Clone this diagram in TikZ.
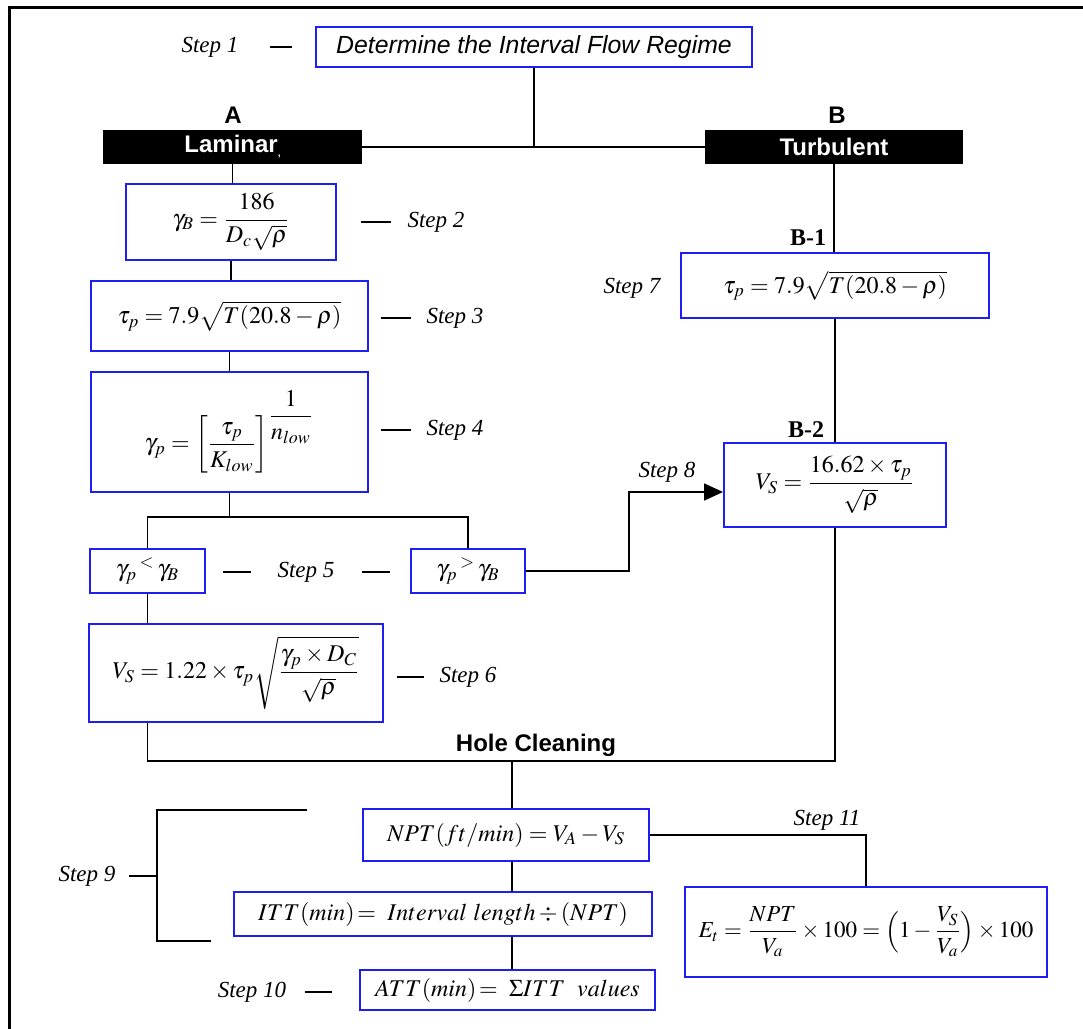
\documentclass[tikz,border=0pt]{standalone}
\usepackage{amsmath}
\usepackage{mathptmx}
\usepackage[no-math]{fontspec}
\setmainfont{Liberation Serif}
\setsansfont{Liberation Sans}
\usetikzlibrary{arrows.meta}
\definecolor{eqblue}{RGB}{30,30,240}
\begin{document}
\begin{tikzpicture}[x=0.5pt,y=-0.5pt,
    eqbox/.style 2 args={draw=eqblue,line width=1pt,inner sep=1pt,
      minimum width=#1pt,minimum height=#2pt,font=\fontsize{12}{14}\selectfont},
    blackbox/.style={fill=black,text=white,minimum width=129.5pt,minimum height=17pt,
      inner sep=0pt,font=\sffamily\bfseries\fontsize{12}{14}\selectfont},
    steplbl/.style={font=\itshape\fontsize{11.5}{13}\selectfont,inner sep=0pt},
    branchlbl/.style={font=\sffamily\bfseries\fontsize{12}{14}\selectfont,inner sep=0pt},
    sublbl/.style={font=\bfseries\fontsize{12}{14}\selectfont,inner sep=0pt},
    wire/.style={line width=0.9pt}]
  \useasboundingbox (0,0) rectangle (1083,1029);
  \draw[line width=1.5pt] (9,1029) -- (9,7) -- (1083,7);

  % regime and the two branches
  \node[eqbox={218}{20},font=\sffamily\itshape\fontsize{12.4}{14}\selectfont]
    (regime) at (534,47) {Determine the Interval Flow Regime};
  \node[steplbl] (s1) at (210,47) {Step 1};
  \node[branchlbl] (lblA) at (233,115) {A};
  \node[branchlbl] (lblB) at (837,115) {B};
  \node[blackbox] (lam) at (232.5,147) {Laminar\raisebox{-2pt}{\tiny,}};
  \node[blackbox,minimum width=129pt] (turb) at (834,147) {Turbulent};

  % A: laminar column
  \node[eqbox={105}{38}] (gB) at (231,222) {$\gamma_B = \dfrac{186}{D_c\sqrt{\rho}}$};
  \node[eqbox={138.5}{35}] (tau3) at (229.5,316) {$\tau_p = 7.9\sqrt{T(20.8-\rho)}$};
  \node[eqbox={138.5}{60}] (gP) at (229.5,432)
    {$\gamma_p = \left[\dfrac{\tau_p}{K_{low}}\right]^{\dfrac{1}{n_{low}}}$};
  \node[eqbox={57.5}{22}] (cLow) at (147.5,571) {$\gamma_p\,{}^{<}\,\gamma_B$};
  \node[eqbox={57}{22}] (cHigh) at (468,571) {$\gamma_p\,{}^{>}\,\gamma_B$};
  \node[eqbox={147}{49}] (vs6) at (236,673)
    {$V_S = 1.22\times\tau_p\sqrt{\dfrac{\gamma_p\times D_C}{\sqrt{\rho}}}$};
  \node[steplbl] (s2) at (436,222) {Step 2};
  \node[steplbl] (s3) at (455,318) {Step 3};
  \node[steplbl] (s4) at (455,430) {Step 4};
  \node[steplbl] (s5) at (306,572) {Step 5};
  \node[steplbl] (s6) at (468,677) {Step 6};

  % B: turbulent column
  \node[sublbl] (lblB1) at (808,238) {B-1};
  \node[eqbox={154}{32.5}] (tau7) at (835,285.5) {$\tau_p = 7.9\sqrt{T(20.8-\rho)}$};
  \node[steplbl] (s7) at (632,288) {Step 7};
  \node[sublbl] (lblB2) at (806,430) {B-2};
  \node[eqbox={111}{42}] (vs8) at (835,485) {$V_S = \dfrac{16.62\times\tau_p}{\sqrt{\rho}}$};
  \node[steplbl] (s8) at (667,472) {Step 8};

  % hole cleaning
  \node[branchlbl] (hole) at (536,745) {Hole Cleaning};
  \coordinate (hc) at (512,761);
  \node[eqbox={143}{26}] (npt) at (506,835) {$NPT(ft/min) = V_A - V_S$};
  \node[eqbox={209}{22}] (itt) at (443,914) {$ITT(min)\!=\ Interval\ length\div(NPT)$};
  \node[eqbox={147.5}{20}] (att) at (507.5,990) {$ATT(min)\!=\ \Sigma ITT\ \ values$};
  \node[eqbox={181}{45},font=\fontsize{11.5}{13}\selectfont] (et) at (866,932)
    {$E_t = \dfrac{NPT}{V_a}\times 100 = \Bigl(1-\dfrac{V_S}{V_a}\Bigr)\times 100$};
  \node[steplbl] (s9) at (87,876) {Step 9};
  \node[steplbl] (s10) at (252,992) {Step 10};
  \node[steplbl] (s11) at (827,820) {Step 11};

  % connectors
  \draw[wire] (regime.south) -- (regime.south |- lam.east);
  \draw[wire] (lam.east) -- (turb.west);
  \draw[wire] (lam.south) -- (lam.south |- gB.north);
  \draw[wire] (gB.south) -- (gB.south |- tau3.north);
  \draw[wire] (tau3.south) -- (gP.north);
  \draw[wire] (gP.south) -- ++(0,24) coordinate (fork);
  \draw[wire] (cLow.north) |- (fork) -| (cHigh.north);
  \draw[wire] (cLow.south) -- (cLow.south |- vs6.north);
  \draw[wire,-{Triangle[length=9.5pt,width=8.5pt]}] (cHigh.east) -- ++(103,0)
    |- ([yshift=-3.5pt]vs8.west);
  \draw[wire] (turb.south) -- (turb.south |- tau7.north);
  \draw[wire] (tau7.south) -- (tau7.south |- vs8.north);
  \draw[wire] (cLow.south |- vs6.south) |- (hc) -| (vs8.south);
  \draw[wire] (hc) -- (hc |- npt.north);
  \draw[wire] (hc |- npt.south) -- (hc |- itt.north);
  \draw[wire] (hc |- itt.south) -- (hc |- att.north);
  \draw[wire] (npt.east) -| (et.north);

  % step dashes
  \draw[wire] ([xshift=15.5pt]s1.east) -- ++(22,0);
  \draw[wire] ([xshift=-8pt]s2.west) -- ++(-30,0);
  \draw[wire] ([xshift=-7.5pt]s3.west) -- ++(-30,0);
  \draw[wire] ([xshift=-7.5pt]s4.west) -- ++(-30,0);
  \draw[wire] ([xshift=-13pt]s5.west) -- ++(-28,0);
  \draw[wire] ([xshift=13.5pt]s5.east) -- ++(28,0);
  \draw[wire] ([xshift=-7.5pt]s6.west) -- ++(-27,0);
  \draw[wire] ([xshift=9pt]s10.east) -- ++(27,0);

  % step 9 bracket
  \coordinate (b9top) at (307,810);
  \coordinate (b9mid) at (157,876);
  \coordinate (b9bot) at (211,941);
  \draw[wire] (b9top) -| (b9mid) |- (b9bot);
  \draw[wire] ([xshift=6.5pt]s9.east) -- (b9mid);
\end{tikzpicture}
\end{document}
